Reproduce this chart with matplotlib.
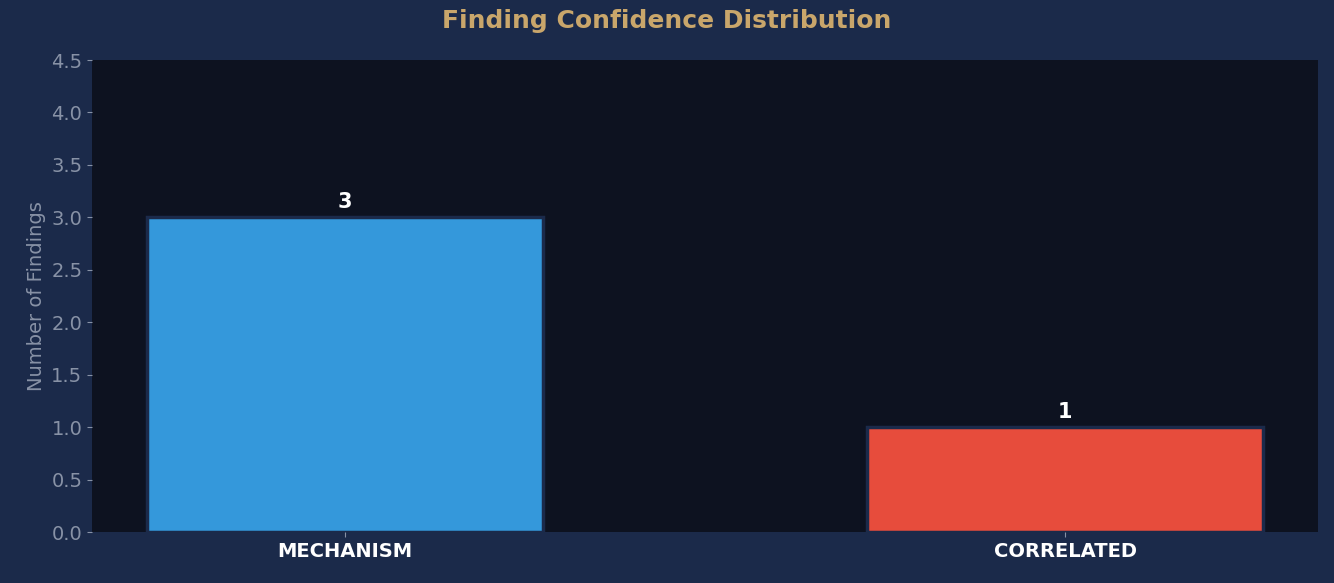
import matplotlib
matplotlib.use("Agg")
import matplotlib.pyplot as plt

categories = ["MECHANISM", "CORRELATED"]
counts = [3, 1]
colors = ["#3498db", "#e74c3c"]

fig = plt.figure(figsize=(13.34, 5.83), dpi=100, facecolor="#1b2a4a")
ax = fig.add_axes([92/1334, 1-532/583, (1318-92)/1334, (532-60)/583])
ax.set_facecolor("#0d1220")
x = list(range(len(categories)))
bars = ax.bar(x, counts, width=0.55, color=colors, edgecolor="#1b2a4a", linewidth=2.5)
for xi, v in zip(x, counts):
    ax.text(xi, v + 0.05, str(v), ha="center", va="bottom", color="white",
            fontsize=15, fontweight="bold")
ax.set_xlim(-0.351, 1.351)
ax.set_ylim(0, 4.5)
ax.set_yticks([i*0.5 for i in range(10)])
ax.set_xticks(x)
ax.set_xticklabels(categories, color="white", fontweight="bold", fontsize=14)
ax.tick_params(axis="y", colors="#8892a6", labelsize=14)
ax.tick_params(axis="x", colors="#8892a6")
for lbl in ax.get_xticklabels():
    lbl.set_color("white")
for s in ax.spines.values():
    s.set_visible(False)
ax.set_ylabel("Number of Findings", color="#8892a6", fontsize=14)
fig.suptitle("Finding Confidence Distribution", color="#c9a66b", fontsize=18,
             fontweight="bold", y=0.985)
fig.savefig("out.png", dpi=100, facecolor=fig.get_facecolor())
